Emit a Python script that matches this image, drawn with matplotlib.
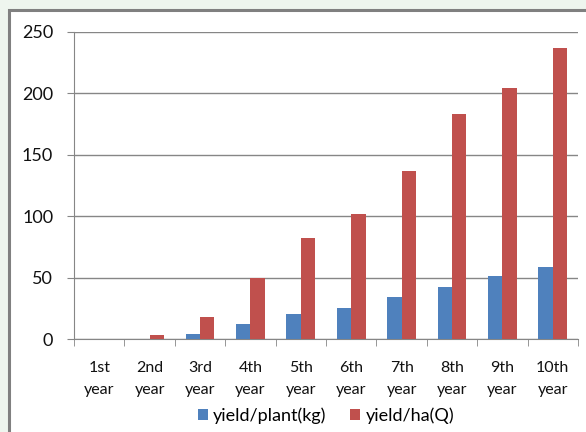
import matplotlib.pyplot as plt
import numpy as np
from matplotlib.patches import Rectangle

years = ["1st\nyear", "2nd\nyear", "3rd\nyear", "4th\nyear", "5th\nyear",
         "6th\nyear", "7th\nyear", "8th\nyear", "9th\nyear", "10th\nyear"]
yield_plant = [0, 0, 4, 12, 20, 25, 34, 42, 51, 59]
yield_ha = [0, 3, 18, 50, 82, 102, 137, 183, 204, 237]

plt.rcParams['font.family'] = ['Lato', 'DejaVu Sans']

fig = plt.figure(figsize=(5.86, 4.32), dpi=100, facecolor="#eef5ee")
# white chart area with grey frame
fig.patches.append(Rectangle((9 / 586, -0.05), 1.1, (432 - 9.5) / 432 + 0.05,
                             transform=fig.transFigure, facecolor="white",
                             edgecolor="#808080", linewidth=2.2, zorder=-1))

ax = fig.add_axes([74 / 586, 1 - 339 / 432, (578 - 74) / 586, (339 - 32) / 432])
ax.set_zorder(1)
ax.set_facecolor("white")

x = np.arange(len(years))
w = 0.285
ax.bar(x - w / 2, yield_plant, w, color="#4f81bd", label="yield/plant(kg)", zorder=3)
ax.bar(x + w / 2, yield_ha, w, color="#c0504d", label="yield/ha(Q)", zorder=3)

ax.set_xlim(-0.5, len(years) - 0.5)
ax.set_ylim(0, 250)
ax.set_yticks(range(0, 251, 50))
ax.grid(axis="y", color="#868686", linewidth=1)
ax.set_axisbelow(True)

ax.set_xticks(x)
ax.set_xticklabels(years, fontsize=11.5, color="#111111", linespacing=1.75)
ax.set_xticks(np.arange(-0.5, len(years)), minor=True)
ax.tick_params(axis="x", which="major", length=0, pad=16)
ax.tick_params(axis="x", which="minor", length=5, color="#868686")
ax.tick_params(axis="y", length=5, color="#868686", pad=10, labelsize=13, labelcolor="#111111")

for s in ["top", "right"]:
    ax.spines[s].set_visible(False)
for s in ["left", "bottom"]:
    ax.spines[s].set_color("#868686")

ax.legend(loc="center", bbox_to_anchor=(0.5, -0.25), ncol=2, frameon=False,
          fontsize=13, handlelength=0.55, handleheight=0.55, handletextpad=0.3,
          columnspacing=1.3)

fig.savefig("out.png", dpi=100, facecolor=fig.get_facecolor())
